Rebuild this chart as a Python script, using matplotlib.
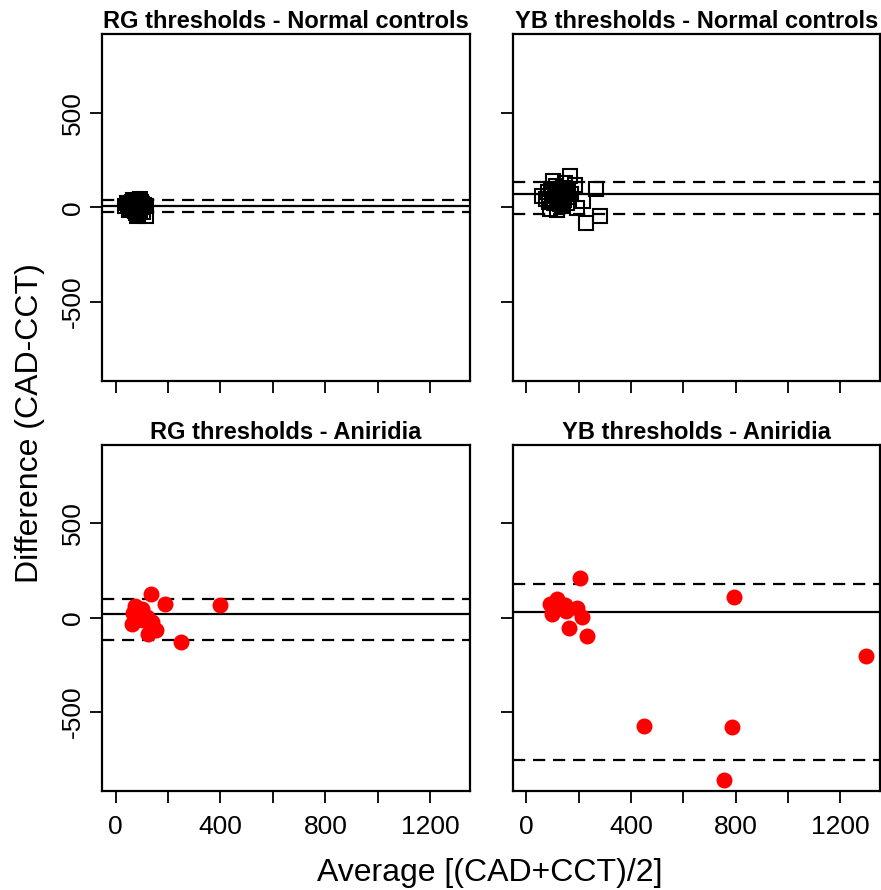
import matplotlib
matplotlib.use("Agg")
import matplotlib.pyplot as plt

plt.rcParams["font.family"] = ["Liberation Sans", "DejaVu Sans"]

# RG thresholds - Normal controls (open squares)
rg_norm_avg = [34, 42, 48, 52, 55, 58, 60, 62, 65, 66, 68, 70, 72, 74, 75, 76, 78, 80, 81,
               82, 84, 85, 86, 88, 90, 92, 93, 94, 95, 98, 100, 105, 110, 116, 117]
rg_norm_diff = [5, 20, 10, -15, 25, -8, 0, 30, 15, 38, -10, 35, 5, 20, -20, -30, 28, 12, -45,
                -5, 40, -35, 2, 22, 8, -15, 45, 26, 30, 0, 18, -25, 10, -45, 5]
rg_norm_lines = [8, 38, -24]  # mean, upper, lower

# YB thresholds - Normal controls (open squares)
yb_norm_avg = [61, 75, 82, 88, 90, 95, 100, 103, 105, 110, 112, 116, 120, 125, 128, 132,
               135, 140, 145, 148, 150, 155, 160, 167, 172, 186, 192, 217, 227, 265, 281,
               98, 108, 118, 130, 142, 158]
yb_norm_diff = [62, 45, 80, 30, -8, 95, 60, 138, 20, 75, 110, -12, 50, 90, 35, 65,
                5, 100, 40, 129, 80, 25, 55, 168, 70, 120, -3, 32, -86, 97, -44,
                40, 85, 70, 15, 60, 95]
yb_norm_lines = [70, 133, -35]

# RG thresholds - Aniridia (red dots)
rg_anir_avg = [62, 67, 74, 80, 93, 99, 104, 118, 124, 135, 137, 154, 188, 248, 398]
rg_anir_diff = [-33, 23, 62, -12, 41, 44, -12, 5, -88, 124, -21, -65, 71, -129, 67]
rg_anir_lines = [18, 100, -117]

# YB thresholds - Aniridia (red dots)
yb_anir_avg = [89, 99, 108, 118, 127, 146, 150, 163, 193, 207, 212, 233, 449, 755, 785, 793, 1296]
yb_anir_diff = [71, 21, 55, 98, 65, 65, 35, -52, 53, 213, 5, -99, -571, -859, -578, 110, -202]
yb_anir_lines = [30, 177, -755]

fig = plt.figure(figsize=(8.81, 8.90), dpi=100)

panels = [
    ("RG thresholds - Normal controls", rg_norm_avg, rg_norm_diff, rg_norm_lines, "sq",
     [102 / 881, 1 - 380.5 / 890, 368 / 881, 346.5 / 890]),
    ("YB thresholds - Normal controls", yb_norm_avg, yb_norm_diff, yb_norm_lines, "sq",
     [512.7 / 881, 1 - 380.5 / 890, 367.5 / 881, 346.5 / 890]),
    ("RG thresholds - Aniridia", rg_anir_avg, rg_anir_diff, rg_anir_lines, "dot",
     [102 / 881, 1 - 791 / 890, 368 / 881, 346.5 / 890]),
    ("YB thresholds - Aniridia", yb_anir_avg, yb_anir_diff, yb_anir_lines, "dot",
     [512.7 / 881, 1 - 791 / 890, 367.5 / 881, 346.5 / 890]),
]

for i, (title, avg, diff, lines, kind, pos) in enumerate(panels):
    ax = fig.add_axes(pos)
    mean, upper, lower = lines
    ax.axhline(mean, color="black", lw=1.6, zorder=1)
    for v in (upper, lower):
        ax.axhline(v, color="black", lw=1.6, dashes=(5.5, 3.5), zorder=1)
    if kind == "sq":
        ax.plot(avg, diff, "s", ls="none", mfc="none", mec="black", ms=10, mew=1.5, zorder=2)
    else:
        ax.plot(avg, diff, "o", ls="none", color="red", ms=11.5, mew=0, zorder=2)

    ax.set_xlim(-52, 1352)
    ax.set_ylim(-918, 918)
    ax.set_xticks(range(0, 1201, 200))
    ax.set_yticks([-500, 0, 500])
    for s in ax.spines.values():
        s.set_linewidth(1.6)
    ax.tick_params(direction="out", length=8.5, width=1.3, labelsize=19)
    ax.tick_params(axis="x", pad=9)
    ax.tick_params(axis="y", pad=4, labelrotation=90)

    if i >= 2:
        ax.set_xticklabels(["0", "", "400", "", "800", "", "1200"])
    else:
        ax.set_xticklabels([])
    if i % 2 == 0:
        ax.set_yticklabels(["-500", "0", "500"])
        for lab in ax.get_yticklabels():
            lab.set_va("center")
    else:
        ax.set_yticklabels([])

    ax.set_title(title, fontsize=17, fontweight="bold", pad=4)

fig.text(30 / 881, 1 - 423 / 890, "Difference (CAD-CCT)", rotation=90,
         ha="center", va="center", fontsize=23)
fig.text(490 / 881, 1 - 881 / 890, "Average [(CAD+CCT)/2]", ha="center",
         va="baseline", fontsize=23)

fig.savefig("out.png", dpi=100)
